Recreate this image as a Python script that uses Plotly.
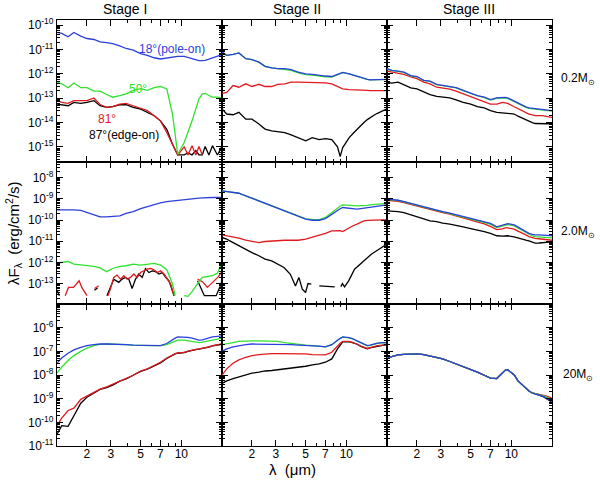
import math

import plotly.graph_objects as go
from plotly.subplots import make_subplots

# wavelength grid (micron) shared by the smooth curves
WL = [1.2, 1.3, 1.45, 1.6, 1.8, 2.0, 2.25, 2.5,
      2.8, 3.1, 3.5, 3.9, 4.4, 5.0, 5.6, 6.3,
      7.0, 7.8, 8.6, 9.0, 9.4, 10.5, 11.2, 12,
      12.8, 13.5, 14.3, 15, 16, 17, 18.5, 20]

# log10(lambda F_lambda)
# --- Stage I, 0.2 Msun
BLUE_11 = [-10.30, -10.34, -10.48, -10.30, -10.45, -10.55, -10.59, -10.69,
           -10.72, -10.76, -10.85, -10.96, -11.03, -11.17, -11.24, -11.34,
           -11.39, -11.36, -11.31, -11.29, -11.28, -11.28, -11.32, -11.38,
           -11.43, -11.46, -11.46, -11.45, -11.40, -11.35, -11.28, -11.21]
GREEN_11 = [-12.34, -12.41, -12.57, -12.38, -12.57, -12.57, -12.71, -12.71,
            -12.85, -12.96, -12.89, -12.82, -12.68, -12.61, -12.68, -12.57,
            -12.52, -12.62, -13.65, -14.61, -15.30, -14.82, -14.41, -13.93,
            -13.44, -13.03, -12.82, -12.80, -12.89, -12.96, -12.96, -12.99]
RED_11 = [-13.10, -13.17, -13.21, -13.10, -13.10, -13.10, -12.99, -13.26,
          -13.38, -13.35, -13.24, -13.21, -13.31, -13.40, -13.51, -13.72,
          -13.93, -14.41, -14.89, -15.14, -15.33, -15.00, -15.33, -14.95,
          -15.33, -14.98, -15.33, None, None, None, None, None]
BLACK_11 = [-13.24, -13.27, -13.31, -13.17, -13.21, -13.17, -13.10, -13.31,
            -13.38, -13.35, -13.27, -13.27, -13.38, -13.45, -13.58, -13.72,
            -13.93, -14.28, -14.89, -15.14, -15.33, -15.33, -15.25, -15.33,
            -15.15, -15.33, -15.33, -14.98, -15.33, -14.95, -15.33, -14.98]

# --- Stage II, 0.2 Msun
BLUE_12 = [-11.10, -11.24, -11.20, -11.14, -11.38, -11.42, -11.52, -11.69,
           -11.76, -11.79, -11.79, -11.83, -11.93, -12.00, -12.02, -12.07,
           -12.09, -12.11, -12.02, -11.97, -11.94, -12.00, -12.05, -12.11,
           -12.16, -12.21, -12.23, -12.25, -12.24, -12.23, -12.23, -12.23]
GREEN_12 = [-11.10, -11.24, -11.20, -11.14, -11.38, -11.42, -11.52, -11.69,
            -11.76, -11.79, -11.81, -11.86, -11.96, -12.03, -12.05, -12.10,
            -12.12, -12.13, -12.04, -11.99, -11.95, -12.00, -12.05, -12.11,
            -12.16, -12.21, -12.23, -12.25, -12.24, -12.23, -12.23, -12.23]
RED_12 = [-12.80, -12.76, -12.48, -12.55, -12.41, -12.52, -12.43, -12.52,
          -12.52, -12.43, -12.41, -12.34, -12.34, -12.34, -12.34, -12.34,
          -12.37, -12.41, -12.52, -12.57, -12.62, -12.65, -12.65, -12.65,
          -12.66, -12.66, -12.68, -12.69, -12.69, -12.69, -12.69, -12.69]
BLACK_12 = [-13.44, -13.65, -13.68, -13.58, -13.86, -13.86, -14.06, -14.27,
            -14.34, -14.38, -14.41, -14.51, -14.62, -14.75, -14.62, -14.70,
            -14.66, -14.70, -15.00, -15.40, -15.03, -14.62, -14.45, -14.27,
            -14.12, -14.00, -13.88, -13.79, -13.70, -13.62, -13.53, -13.44]

# --- Stage III, 0.2 Msun
BLUE_13 = [-11.79, -11.86, -11.89, -11.93, -12.07, -12.11, -12.27, -12.30,
           -12.43, -12.48, -12.52, -12.57, -12.68, -12.80, -12.89, -12.96,
           -13.06, -12.99, -12.96, -12.97, -12.99, -13.13, -13.22, -13.31,
           -13.36, -13.40, -13.42, -13.44, -13.46, -13.47, -13.49, -13.51]
GREEN_13 = [-11.80, -11.87, -11.90, -11.94, -12.08, -12.12, -12.28, -12.31,
            -12.44, -12.49, -12.53, -12.58, -12.69, -12.81, -12.90, -12.98,
            -13.08, -13.01, -12.98, -12.99, -13.01, -13.15, -13.24, -13.33,
            -13.38, -13.42, -13.44, -13.46, -13.48, -13.49, -13.51, -13.53]
RED_13 = [-11.89, -11.93, -11.97, -12.02, -12.13, -12.20, -12.34, -12.41,
          -12.55, -12.58, -12.63, -12.71, -12.82, -12.93, -13.06, -13.14,
          -13.24, -13.24, -13.17, -13.19, -13.21, -13.35, -13.43, -13.51,
          -13.58, -13.65, -13.69, -13.72, -13.72, -13.72, -13.76, -13.79]
BLACK_13 = [-12.34, -12.38, -12.34, -12.45, -12.58, -12.62, -12.75, -12.85,
            -12.93, -12.96, -12.99, -13.07, -13.17, -13.24, -13.35, -13.40,
            -13.51, -13.58, -13.61, -13.61, -13.61, -13.65, -13.74, -13.82,
            -13.88, -13.93, -14.00, -14.04, -14.05, -14.06, -14.05, -14.04]

# --- Stage I, 2.0 Msun
BLUE_21 = [-9.52, -9.52, -9.50, -9.52, -9.55, -9.65, -9.76, -9.85,
           -9.85, -9.84, -9.80, -9.69, -9.60, -9.46, -9.36, -9.25,
           -9.19, -9.13, -9.10, -9.08, -9.07, -9.02, -9.00, -8.99,
           -8.98, -8.97, -8.96, -8.95, -8.94, -8.94, -8.94, -8.94]
GREEN_21 = [-12.03, -12.00, -11.95, -12.07, -12.11, -12.12, -12.18, -12.25,
            -12.43, -12.28, -12.18, -12.15, -12.07, -12.12, -12.07, -12.04,
            -12.12, -12.34, -13.01, -13.56, None, -13.56, -13.59, -13.37,
            -13.09, -12.90, -12.70, -12.68, -12.65, -12.62, -12.50, -12.00]
RED21_WL = [1.38, 1.46, 1.59, 1.68, 1.75, 1.83, 1.92, 2.0,
            2.1, 2.28, 2.44, 2.6, 2.86, 2.98, 3.16, 3.34,
            3.54, 3.75, 3.97, 4.2, 4.45, 4.71, 4.99, 5.28,
            5.59, 5.92, 6.27, 6.64, 7.03, 7.44, 7.88, 8.34,
            8.83, 11.0, 13.2, 14.4, 15.6, 17.0, 18.6, 20.0]
RED_21 = [-13.56, -13.17, -13.17, -12.97, -12.86, -13.17, -13.41, -13.56,
          None, -13.22, -13.09, None, -13.56, -13.25, -12.70, -12.59,
          -12.78, -12.62, -12.78, -12.70, -12.54, -12.70, -12.47, -12.39,
          -12.31, -12.28, -12.34, -12.47, -12.39, -12.54, -12.78, -13.01,
          -13.56, None, -12.78, -12.91, -13.17, -12.94, -12.70, -12.43]
BLACK21_WL = [1.2, 1.25, 1.3, 2.27, 2.4, 2.5, 2.81, 2.98,
              3.16, 3.44, 3.64, 3.85, 4.08, 4.32, 4.58, 4.84,
              5.13, 5.43, 5.75, 6.09, 6.45, 6.83, 7.23, 7.66,
              8.11, 8.58, 8.83, 11.0, 13.2, 13.96, 14.8, 18.1,
              19.7, 20.0]
BLACK_21 = [-13.30, -13.56, None, -13.30, -13.20, None, -13.56, -13.17,
            -12.78, -12.93, -12.78, -12.70, -12.78, -13.22, -12.78, -12.54,
            -12.70, -12.28, -12.47, -12.39, -12.43, -12.54, -12.47, -12.70,
            -12.86, -13.33, -13.56, None, -12.86, -13.17, -13.56, -13.56,
            -13.01, -12.75]

# --- Stage II, 2.0 Msun
BLUE_22 = [-8.63, -8.66, -8.71, -8.74, -8.86, -8.97, -9.10, -9.22,
           -9.33, -9.44, -9.57, -9.69, -9.83, -9.96, -10.01, -10.01,
           -9.93, -9.72, -9.54, -9.47, -9.41, -9.44, -9.47, -9.49,
           -9.46, -9.44, -9.41, -9.38, -9.36, -9.33, -9.31, -9.29]
GREEN_22 = [-8.63, -8.66, -8.71, -8.74, -8.86, -8.97, -9.10, -9.22,
            -9.33, -9.44, -9.57, -9.69, -9.83, -9.95, -9.97, -9.98,
            -9.88, -9.65, -9.41, -9.35, -9.29, -9.29, -9.32, -9.33,
            -9.33, -9.33, -9.31, -9.29, -9.28, -9.26, -9.25, -9.22]
RED_22 = [-10.70, -10.74, -10.82, -10.85, -10.95, -11.01, -11.06, -11.01,
          -10.98, -10.98, -10.95, -10.95, -10.95, -10.90, -10.82, -10.74,
          -10.63, -10.51, -10.48, -10.50, -10.54, -10.35, -10.27, -10.19,
          -10.11, -10.04, -10.02, -10.01, -10.00, -9.99, -9.99, -9.99]
BLACK22_WL = [1.2, 1.3, 1.45, 1.6, 1.8, 2.0, 2.25, 2.5,
              2.8, 3.1, 3.45, 3.85, 4.2, 4.45, 4.72, 4.99,
              5.2, 5.5, 5.9, 6.3, 8.2, 8.7, 9.1, 9.35,
              9.7, 10.4, 11.5, 13.0, 15.3, 20.0]
BLACK_22 = [-10.82, -10.90, -11.06, -11.21, -11.37, -11.53, -11.68, -11.84,
            -11.92, -12.08, -12.23, -12.55, -13.10, -12.70, -13.25, -13.41,
            -12.99, -13.02, None, -13.10, -13.14, None, -13.14, -12.99,
            -13.14, -12.86, -12.31, -12.00, -11.61, -11.13]

# --- Stage III, 2.0 Msun
BLUE_23 = [-9.02, -9.03, -9.07, -9.13, -9.22, -9.30, -9.38, -9.46,
           -9.54, -9.60, -9.68, -9.76, -9.85, -9.93, -10.01, -10.08,
           -10.16, -10.32, -10.24, -10.18, -10.17, -10.23, -10.33, -10.43,
           -10.55, -10.63, -10.67, -10.70, -10.70, -10.70, -10.72, -10.74]
GREEN_23 = [-9.03, -9.04, -9.08, -9.14, -9.23, -9.31, -9.39, -9.47,
            -9.55, -9.62, -9.70, -9.78, -9.87, -9.95, -10.03, -10.10,
            -10.19, -10.35, -10.28, -10.22, -10.21, -10.28, -10.38, -10.49,
            -10.61, -10.70, -10.75, -10.78, -10.79, -10.80, -10.82, -10.84]
RED_23 = [-9.07, -9.08, -9.12, -9.18, -9.27, -9.35, -9.43, -9.51,
          -9.59, -9.65, -9.72, -9.80, -9.90, -10.00, -10.08, -10.18,
          -10.30, -10.45, -10.42, -10.37, -10.37, -10.43, -10.52, -10.60,
          -10.70, -10.78, -10.83, -10.86, -10.88, -10.90, -10.93, -10.95]
BLACK_23 = [-9.57, -9.57, -9.60, -9.65, -9.76, -9.85, -9.96, -10.04,
            -10.08, -10.15, -10.19, -10.24, -10.32, -10.40, -10.46, -10.54,
            -10.63, -10.74, -10.76, -10.74, -10.74, -10.79, -10.85, -10.90,
            -10.95, -10.98, -11.04, -11.09, -11.08, -11.06, -11.05, -11.03]

# --- Stage I, 20 Msun
BLUE_31 = [-7.50, -7.28, -7.08, -6.94, -6.83, -6.76, -6.72, -6.69,
           -6.69, -6.69, -6.71, -6.72, -6.74, -6.75, -6.75, -6.76,
           -6.76, -6.67, -6.49, -6.44, -6.39, -6.39, -6.41, -6.44,
           -6.50, -6.53, -6.52, -6.49, -6.44, -6.39, -6.37, -6.35]
GREEN_31 = [-7.92, -7.67, -7.39, -7.18, -7.00, -6.86, -6.76, -6.71,
            -6.69, -6.69, -6.71, -6.72, -6.74, -6.76, -6.76, -6.76,
            -6.76, -6.72, -6.63, -6.56, -6.53, -6.53, -6.55, -6.58,
            -6.61, -6.63, -6.61, -6.58, -6.55, -6.51, -6.48, -6.44]
RED_31 = [-10.14, -9.82, -9.50, -9.40, -9.03, -8.89, -8.71, -8.60,
          -8.50, -8.39, -8.25, -8.15, -8.01, -7.83, -7.74, -7.60,
          -7.46, -7.28, -7.14, -7.10, -7.07, -7.04, -6.99, -6.94,
          -6.92, -6.90, -6.88, -6.86, -6.81, -6.76, -6.72, -6.69]
BLACK_31 = [-10.51, -10.14, -10.17, -9.75, -9.19, -8.94, -8.75, -8.61,
            -8.53, -8.43, -8.26, -8.17, -8.01, -7.85, -7.75, -7.63,
            -7.49, -7.30, -7.15, -7.11, -7.08, -7.05, -7.00, -6.95,
            -6.93, -6.91, -6.89, -6.87, -6.82, -6.77, -6.73, -6.70]

# --- Stage II, 20 Msun
BLUE_32 = [-7.00, -6.90, -6.81, -6.76, -6.72, -6.69, -6.69, -6.69,
           -6.69, -6.69, -6.71, -6.72, -6.74, -6.75, -6.76, -6.78,
           -6.81, -6.72, -6.53, -6.45, -6.39, -6.42, -6.47, -6.56,
           -6.64, -6.70, -6.76, -6.74, -6.69, -6.65, -6.63, -6.63]
GREEN_32 = [-6.72, -6.67, -6.63, -6.58, -6.56, -6.56, -6.56, -6.56,
            -6.57, -6.58, -6.63, -6.67, -6.69, -6.74, -6.76, -6.78,
            -6.81, -6.72, -6.53, -6.45, -6.40, -6.43, -6.48, -6.57,
            -6.65, -6.71, -6.77, -6.75, -6.70, -6.66, -6.64, -6.64]
RED_32 = [-8.01, -7.74, -7.50, -7.36, -7.25, -7.18, -7.14, -7.11,
          -7.10, -7.10, -7.10, -7.11, -7.11, -7.11, -7.14, -7.15,
          -7.15, -7.04, -6.76, -6.66, -6.58, -6.58, -6.63, -6.69,
          -6.78, -6.84, -6.88, -6.84, -6.80, -6.76, -6.74, -6.72]
BLACK_32 = [-8.36, -8.25, -8.15, -8.08, -7.97, -7.92, -7.88, -7.83,
            -7.81, -7.78, -7.74, -7.71, -7.67, -7.63, -7.57, -7.53,
            -7.46, -7.32, -6.90, -6.72, -6.60, -6.59, -6.64, -6.70,
            -6.79, -6.85, -6.89, -6.85, -6.81, -6.77, -6.75, -6.73]

# --- Stage III, 20 Msun
BLUE_33 = [-7.28, -7.22, -7.15, -7.13, -7.11, -7.11, -7.14, -7.19,
           -7.25, -7.32, -7.43, -7.53, -7.64, -7.75, -7.88, -8.01,
           -8.13, -8.15, -7.90, -7.80, -7.78, -8.00, -8.25, -8.42,
           -8.57, -8.68, -8.76, -8.81, -8.84, -8.89, -9.00, -9.13]
GREEN_33 = [-7.28, -7.22, -7.15, -7.13, -7.11, -7.11, -7.14, -7.19,
            -7.25, -7.32, -7.43, -7.53, -7.64, -7.75, -7.88, -8.01,
            -8.13, -8.15, -7.90, -7.80, -7.78, -8.00, -8.25, -8.42,
            -8.57, -8.68, -8.76, -8.80, -8.83, -8.87, -8.95, -9.02]
RED_33 = [-7.28, -7.22, -7.15, -7.13, -7.11, -7.11, -7.14, -7.19,
          -7.25, -7.32, -7.43, -7.53, -7.64, -7.75, -7.88, -8.01,
          -8.13, -8.15, -7.90, -7.80, -7.78, -8.00, -8.25, -8.42,
          -8.57, -8.68, -8.76, -8.80, -8.82, -8.85, -8.90, -8.98]
BLACK_33 = [-7.28, -7.22, -7.15, -7.13, -7.11, -7.11, -7.14, -7.19,
            -7.25, -7.32, -7.43, -7.53, -7.64, -7.75, -7.88, -8.01,
            -8.13, -8.15, -7.90, -7.80, -7.78, -8.00, -8.25, -8.42,
            -8.57, -8.68, -8.76, -8.81, -8.85, -8.90, -9.02, -9.15]

# IRAC band edges (micron); light / dark alternate
BAND_LO = [3.18, 3.93, 5.02, 6.42]
BAND_HI = [3.93, 5.02, 6.42, 9.45]

STAGES = ['Stage I', 'Stage II', 'Stage III']
MASSES = ['0.2M<sub>⊙</sub>', '2.0M<sub>⊙</sub>', '20M<sub>⊙</sub>']
ROW_DECADES = [[-15, -14, -13, -12, -11, -10],
               [-14, -13, -12, -11, -10, -9, -8],
               [-11, -10, -9, -8, -7, -6]]

BLUE = '#2b3fdc'
GREEN = '#2fe22f'
RED = '#e01a1f'
BLACK = '#000000'
FONT = 'Liberation Sans'

W, H = 600, 480
L, R, T, B = 57, 48, 20, 34


def flux(vals):
    return [None if v is None else 10 ** v for v in vals]


def paper(x, y):
    return (x - L) / (W - L - R), (H - B - y) / (H - T - B)


panels = [
    (1, 1, [(WL, BLACK_11), (WL, RED_11), (WL, GREEN_11), (WL, BLUE_11)]),
    (1, 2, [(WL, BLACK_12), (WL, RED_12), (WL, GREEN_12), (WL, BLUE_12)]),
    (1, 3, [(WL, BLACK_13), (WL, RED_13), (WL, GREEN_13), (WL, BLUE_13)]),
    (2, 1, [(BLACK21_WL, BLACK_21), (RED21_WL, RED_21), (WL, GREEN_21), (WL, BLUE_21)]),
    (2, 2, [(BLACK22_WL, BLACK_22), (WL, RED_22), (WL, GREEN_22), (WL, BLUE_22)]),
    (2, 3, [(WL, BLACK_23), (WL, RED_23), (WL, GREEN_23), (WL, BLUE_23)]),
    (3, 1, [(WL, BLACK_31), (WL, RED_31), (WL, GREEN_31), (WL, BLUE_31)]),
    (3, 2, [(WL, BLACK_32), (WL, RED_32), (WL, GREEN_32), (WL, BLUE_32)]),
    (3, 3, [(WL, BLACK_33), (WL, RED_33), (WL, GREEN_33), (WL, BLUE_33)]),
]
line_colors = [BLACK, RED, GREEN, BLUE]
y_ranges = [[-15.62, -9.79], [-13.95, -7.27], [-11.0, -5.0]]

fig = make_subplots(rows=3, cols=3, horizontal_spacing=0, vertical_spacing=0)

for row, col, curves in panels:
    for (xs, ys), color in zip(curves, line_colors):
        fig.add_trace(go.Scatter(x=xs, y=flux(ys), mode='lines',
                                 line=dict(color=color, width=1.3),
                                 showlegend=False, hoverinfo='skip'),
                      row=row, col=col)
    # shaded bands go in after the traces (empty subplots get skipped)
    for i in range(4):
        fig.add_vrect(x0=math.log10(BAND_LO[i]), x1=math.log10(BAND_HI[i]),
                      fillcolor='#dadada' if i % 2 == 0 else '#c6c6c6',
                      opacity=1, line_width=0, layer='below', row=row, col=col)

minor_y = [m * 10.0 ** d for d in range(-17, -3) for m in range(2, 10)]

for row in range(1, 4):
    decs = ROW_DECADES[row - 1]
    for col in range(1, 4):
        fig.update_xaxes(type='log', range=[math.log10(1.2), math.log10(20)],
                         tickvals=[2, 3, 5, 7, 10], ticktext=['2', '3', '5', '7', '10'],
                         ticks='inside', ticklen=6, tickcolor='black',
                         showline=True, linecolor='black', linewidth=1.3,
                         mirror='allticks', showgrid=False, zeroline=False,
                         showticklabels=(row == 3), ticklabelstandoff=-4,
                         tickfont=dict(family=FONT, size=12, color='black'),
                         minor=dict(tickvals=[4, 6, 8, 9], ticks='inside',
                                    ticklen=3, tickcolor='black', showgrid=False),
                         row=row, col=col)
        fig.update_yaxes(type='log', range=y_ranges[row - 1],
                         tickvals=[10.0 ** d for d in decs],
                         ticktext=['10<sup>%d</sup>' % d for d in decs],
                         ticks='inside', ticklen=6, tickcolor='black',
                         showline=True, linecolor='black', linewidth=1.3,
                         mirror='allticks', showgrid=False, zeroline=False,
                         showticklabels=(col == 1),
                         tickfont=dict(family=FONT, size=12, color='black'),
                         minor=dict(tickvals=minor_y, ticks='inside',
                                    ticklen=3, tickcolor='black', showgrid=False),
                         row=row, col=col)

annots = []


def label(text, x, y, size=13, color='black', angle=0):
    px, py = paper(x, y)
    annots.append(dict(text=text, x=px, y=py, xref='paper', yref='paper',
                       showarrow=False, xanchor='center', yanchor='middle',
                       textangle=angle,
                       font=dict(family=FONT, size=size, color=color)))


for name, x in zip(STAGES, [125, 297, 469]):
    label(name, x, 9, size=14)
for name, y in zip(MASSES, [79, 232, 375]):
    label(name, 578, y, size=12)

label('18°(pole-on)', 172, 49, size=12, color=BLUE)
label('50°', 138, 89, size=12, color=GREEN)
label('81°', 107, 119, size=12, color=RED)
label('87°(edge-on)', 124, 135, size=12, color=BLACK)

label('λF<sub>λ</sub>  (erg/cm<sup>2</sup>/s)', 13, 233, size=15, angle=-90)
label('λ  (μm)', 292, 470, size=15)

fig.update_layout(width=W, height=H, margin=dict(l=L, r=R, t=T, b=B),
                  plot_bgcolor='white', paper_bgcolor='white',
                  annotations=annots, showlegend=False)

# the page has a default 8px body margin; drop it so the figure sits at 0,0
fig.write_html("out.html", config={'displayModeBar': False},
               post_script="document.body.style.margin = '0px';")
